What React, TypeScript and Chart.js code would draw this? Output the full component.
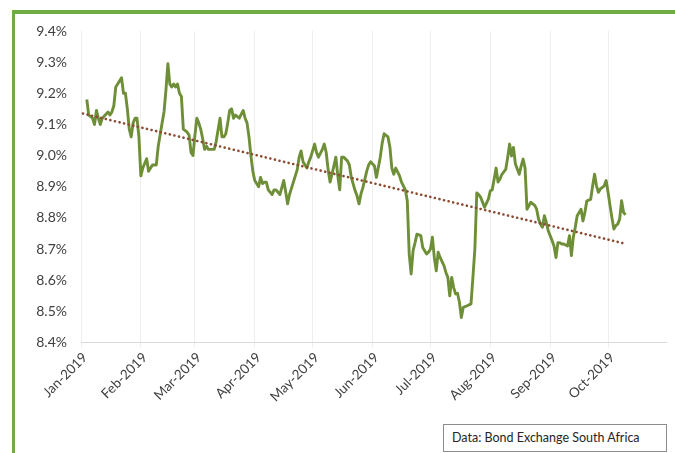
import React, { useEffect, useRef } from "react";
import { Chart, registerables } from "chart.js";

Chart.register(...registerables);

// Days elapsed since 1 Jan 2019 for each trading-day observation
const tradingDays = [
  3, 4, 6, 7, 8, 9, 10, 11, 14, 15, 16, 17, 18, 19, 21, 22, 23, 24, 25, 26,
  27, 28, 29, 30, 31, 32, 34, 35, 37, 38, 39, 40, 42, 43, 44, 45, 46, 47, 48, 49,
  50, 51, 52, 53, 55, 56, 57, 58, 59, 60, 61, 62, 63, 64, 65, 66,
  67, 69, 70, 72, 73, 74, 75, 76, 77, 78, 79, 80, 82, 84, 85, 86, 87, 88, 89, 90,
  92, 93, 94, 95, 96, 97, 99, 100, 101, 103, 105, 106, 107, 108, 110, 112, 113, 114, 115, 117,
  118, 119, 121, 122, 123, 125, 126, 127, 128, 129, 131, 132, 133, 134, 135, 136, 138, 139, 140, 142,
  143, 144, 145, 146, 148, 149, 150, 152, 153, 155, 156, 157, 159, 160, 161, 162, 163, 165, 166, 168,
  169, 170, 171, 172, 173, 174, 176, 177, 179, 180, 181, 182, 183, 184, 185, 186, 188, 189, 190, 191,
  192, 193, 194, 195, 196, 197, 198, 200, 202, 203, 204, 205, 206, 207, 208, 209, 211, 212, 213, 214,
  215, 216, 217, 218, 220, 221, 222, 223, 224, 225, 227, 228, 229, 230, 231, 233, 235, 236, 237, 238,
  239, 240, 241, 242, 244, 245, 246, 247, 248, 249, 250, 252, 253, 254, 255, 256, 257, 259, 260, 261,
  262, 263, 264, 265, 266, 267, 268, 269, 271, 272, 273, 274, 275, 276, 277, 278, 279, 280, 281, 282,
];

// R186 benchmark bond yield, %
const yields = [
  9.18, 9.13, 9.12, 9.1, 9.145, 9.12, 9.1, 9.12, 9.14, 9.13, 9.14, 9.16, 9.22, 9.23, 9.25, 9.2, 9.2, 9.15, 9.085, 9.06,
  9.105, 9.12, 9.12, 9.06, 8.935, 8.96, 8.99, 8.95, 8.97, 8.97, 8.97, 9.03, 9.105, 9.14, 9.21, 9.295, 9.23, 9.22, 9.23, 9.22,
  9.23, 9.2, 9.19, 9.085, 9.075, 9.065, 9.01, 9.0, 9.065, 9.12, 9.105, 9.085, 9.055, 9.02, 9.03, 9.02,
  9.02, 9.02, 9.045, 9.12, 9.06, 9.06, 9.07, 9.105, 9.145, 9.15, 9.12, 9.13, 9.12, 9.145, 9.12, 9.105, 9.06, 9.0, 8.95, 8.92,
  8.9, 8.93, 8.91, 8.915, 8.915, 8.89, 8.875, 8.89, 8.89, 8.875, 8.92, 8.885, 8.845, 8.875, 8.915, 8.955, 8.995, 9.015, 8.98, 8.96,
  8.98, 8.995, 9.037, 9.01, 8.995, 9.02, 9.037, 9.01, 8.955, 8.915, 8.967, 8.995, 8.935, 8.89, 8.995, 8.995, 8.983, 8.97, 8.93, 8.887,
  8.87, 8.845, 8.877, 8.897, 8.95, 8.97, 8.98, 8.967, 8.93, 8.995, 9.04, 9.07, 9.06, 9.027, 8.96, 8.94, 8.96, 8.935, 8.915, 8.89,
  8.855, 8.684, 8.62, 8.695, 8.72, 8.748, 8.743, 8.705, 8.684, 8.69, 8.7, 8.738, 8.673, 8.63, 8.69, 8.673, 8.647, 8.625, 8.609, 8.55,
  8.609, 8.577, 8.556, 8.558, 8.53, 8.48, 8.513, 8.518, 8.524, 8.61, 8.7, 8.88, 8.875, 8.866, 8.85, 8.834, 8.86, 8.887, 8.89, 8.925,
  8.96, 8.915, 8.925, 8.94, 8.956, 8.994, 9.037, 8.999, 9.026, 8.973, 8.94, 8.967, 8.989, 8.96, 8.828, 8.85, 8.84, 8.828, 8.796, 8.78,
  8.77, 8.807, 8.786, 8.759, 8.727, 8.71, 8.673, 8.72, 8.72, 8.716, 8.716, 8.71, 8.743, 8.679, 8.738, 8.77, 8.807, 8.828, 8.79, 8.818,
  8.855, 8.857, 8.86, 8.903, 8.94, 8.903, 8.882, 8.893, 8.903, 8.92, 8.882, 8.84, 8.8, 8.764, 8.775, 8.78, 8.796, 8.855, 8.818, 8.81,
];

// Linear trend end points
const trendDays = [1, 282];
const trendYields = [9.135, 8.717];

const monthStarts = [0, 31, 59, 90, 120, 151, 181, 212, 243, 273];
const monthLabels = [
  "Jan-2019", "Feb-2019", "Mar-2019", "Apr-2019", "May-2019",
  "Jun-2019", "Jul-2019", "Aug-2019", "Sep-2019", "Oct-2019",
];
const yTicks = [8.4, 8.5, 8.6, 8.7, 8.8, 8.9, 9.0, 9.1, 9.2, 9.3, 9.4];
const sourceNote = "Data: Bond Exchange South Africa";

const FONT = "Lato, 'Open Sans', sans-serif";
const TEXT = "#404040";

export default function App() {
  const canvasRef = useRef<HTMLCanvasElement | null>(null);

  useEffect(() => {
    const canvas = canvasRef.current;
    if (!canvas) return;
    const chart = new Chart(canvas, {
      type: "line",
      data: {
        datasets: [
          {
            label: "Trend",
            data: trendDays.map((d, i) => ({ x: d, y: trendYields[i] })),
            borderColor: "#8A4B30",
            borderWidth: 2.6,
            borderDash: [0.1, 4.6],
            borderCapStyle: "round",
            pointRadius: 0,
            tension: 0,
            order: 0,
          },
          {
            label: "Yield",
            data: tradingDays.map((d, i) => ({ x: d, y: yields[i] })),
            borderColor: "#6E8F37",
            borderWidth: 2.9,
            borderJoinStyle: "round",
            pointRadius: 0,
            tension: 0,
            order: 1,
          },
        ],
      },
      options: {
        animation: false,
        responsive: true,
        maintainAspectRatio: false,
        layout: { padding: { top: 31, right: 9, left: 0, bottom: 0 } },
        plugins: {
          legend: { display: false },
          tooltip: { enabled: false },
        },
        scales: {
          x: {
            type: "linear",
            min: 0,
            max: 303,
            afterBuildTicks: (scale: any) => {
              scale.ticks = monthStarts.map((v) => ({ value: v }));
            },
            afterFit: (scale: any) => {
              scale.height = 110.5;
            },
            ticks: {
              autoSkip: false,
              minRotation: 45,
              maxRotation: 45,
              padding: 2,
              labelOffset: 4,
              color: TEXT,
              font: { family: FONT, size: 13.5 },
              callback: (value: any) => {
                const idx = monthStarts.indexOf(Number(value));
                return idx >= 0 ? monthLabels[idx] : "";
              },
            },
            grid: {
              color: "#eeeeee",
              lineWidth: 1,
              tickLength: 5,
            },
            border: { display: true, color: "#d9d9d9", width: 1 },
          },
          y: {
            type: "linear",
            min: 8.4,
            max: 9.4,
            afterBuildTicks: (scale: any) => {
              scale.ticks = yTicks.map((v) => ({ value: v }));
            },
            afterFit: (scale: any) => {
              scale.width = 81;
            },
            ticks: {
              padding: 14,
              color: TEXT,
              font: { family: FONT, size: 14 },
              callback: (value: any) => Number(value).toFixed(1) + "%",
            },
            grid: { display: false, drawTicks: false },
            border: { display: false },
          },
        },
      },
    });
    return () => chart.destroy();
  }, []);

  return (
    <div
      style={{
        position: "fixed",
        left: 0,
        top: 0,
        width: 675,
        height: 453,
        overflow: "hidden",
        background: "#ffffff",
      }}
    >
      <div
        style={{
          position: "absolute",
          left: 12,
          top: 10,
          width: 720,
          height: 520,
          borderLeft: "3px solid #6FAC46",
          borderTop: "4px solid #6FAC46",
          boxSizing: "border-box",
        }}
      />
      <div style={{ position: "absolute", left: 0, top: 0, width: 675, height: 453 }}>
        <canvas ref={canvasRef} />
      </div>
      <div
        style={{
          position: "absolute",
          left: 443,
          top: 424,
          width: 224,
          height: 28,
          boxSizing: "border-box",
          border: "1px solid #8c8c8c",
          background: "#ffffff",
          fontFamily: FONT,
          fontSize: 12.5,
          color: "#262626",
          lineHeight: "26px",
          paddingLeft: 8,
          whiteSpace: "nowrap",
        }}
      >
        {sourceNote}
      </div>
    </div>
  );
}
